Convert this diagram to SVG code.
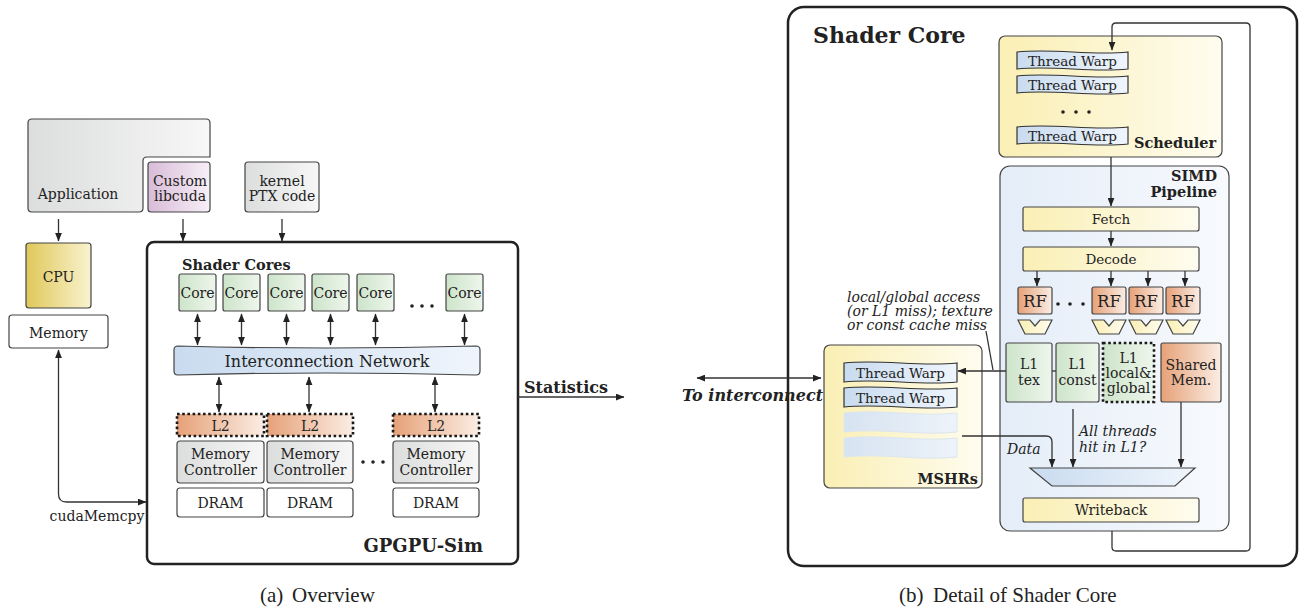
<svg xmlns="http://www.w3.org/2000/svg" width="1304" height="610" viewBox="0 0 1304 610">
<defs>
<linearGradient id="gGray" x1="0" y1="0" x2="1" y2="0"><stop offset="0" stop-color="#dcdddd"/><stop offset="1" stop-color="#f7f7f7"/></linearGradient>
<linearGradient id="gPurple" x1="0" y1="0" x2="1" y2="0"><stop offset="0" stop-color="#d8bcd8"/><stop offset="1" stop-color="#f7eff7"/></linearGradient>
<linearGradient id="gCpu" x1="0" y1="0" x2="1" y2="0"><stop offset="0" stop-color="#e0c85a"/><stop offset="1" stop-color="#f9f3cf"/></linearGradient>
<linearGradient id="gGreen" x1="0" y1="0" x2="1" y2="0"><stop offset="0" stop-color="#cde4ca"/><stop offset="1" stop-color="#eef6ec"/></linearGradient>
<linearGradient id="gOrange" x1="0" y1="0" x2="1" y2="0"><stop offset="0" stop-color="#e6a178"/><stop offset="1" stop-color="#fbede4"/></linearGradient>
<linearGradient id="gBlue" x1="0" y1="0" x2="1" y2="0"><stop offset="0" stop-color="#c9dbef"/><stop offset="1" stop-color="#eff5fc"/></linearGradient>
<linearGradient id="gPaleBlue" x1="0" y1="0" x2="1" y2="0"><stop offset="0" stop-color="#e4edf8"/><stop offset="1" stop-color="#f8fafd"/></linearGradient>
<linearGradient id="gYellow" x1="0" y1="0" x2="1" y2="0"><stop offset="0" stop-color="#faefb4"/><stop offset="1" stop-color="#fefcef"/></linearGradient>
<linearGradient id="gEmpty" x1="0" y1="0" x2="1" y2="0"><stop offset="0" stop-color="#d6e3f1"/><stop offset="1" stop-color="#edf3fa"/></linearGradient>
<marker id="ah" viewBox="0 0 10 8" refX="9.5" refY="4" markerWidth="9" markerHeight="7" markerUnits="userSpaceOnUse" orient="auto-start-reverse"><path d="M0,0 L10,4 L0,8 z" fill="#222"/></marker>
<style>
text{font-family:"DejaVu Serif","Liberation Serif",serif;fill:#222;}
.box{stroke:#444;stroke-width:1.2;}
.frame{fill:none;stroke:#222;stroke-width:2.5;}
.dash{stroke:#1a1a1a;stroke-width:2.6;stroke-dasharray:2.6 2.6;}
.t14{font-size:14px;text-anchor:middle;}
.t13{font-size:13.5px;text-anchor:middle;}
.b{font-weight:bold;}
.it{font-style:italic;font-size:14px;}
.cap{font-family:"Liberation Serif","Times New Roman",serif;font-size:21px;}
.ln{fill:none;stroke:#333;stroke-width:1.3;}
.arr{fill:none;stroke:#333;stroke-width:1.3;marker-end:url(#ah);}
.darr{fill:none;stroke:#333;stroke-width:1.3;marker-start:url(#ah);marker-end:url(#ah);}
.tw{fill:url(#gBlue);stroke:#333;stroke-width:1.2;}
.twe{fill:url(#gEmpty);stroke:#dde6ef;stroke-width:1;}
</style>
</defs>
<rect width="1304" height="610" fill="#fff"/>

<!-- ===== Left: Overview ===== -->
<g id="application">
<path class="box" fill="url(#gGray)" d="M32,119 L206,119 Q210,119 210,123 L210,157 L147,157 Q143,157 143,161 L143,208 Q143,212 139,212 L32,212 Q28,212 28,208 L28,123 Q28,119 32,119 Z"/>
<text class="t14" x="78" y="199">Application</text>
</g>
<g id="libcuda">
<rect class="box" fill="url(#gPurple)" x="148" y="162" width="62" height="50" rx="3"/>
<text class="t14" x="180" y="186">Custom</text>
<text class="t14" x="180" y="201">libcuda</text>
</g>
<g id="ptx">
<rect class="box" fill="url(#gGray)" x="245" y="162" width="74" height="50" rx="3"/>
<text class="t14" x="282" y="186">kernel</text>
<text class="t14" x="282" y="201">PTX code</text>
</g>
<g id="cpu">
<rect class="box" fill="url(#gCpu)" x="26" y="243" width="65" height="65" rx="3"/>
<text class="t14" x="58.5" y="282">CPU</text>
</g>
<g id="memory">
<rect class="box" fill="#fff" x="9" y="315" width="99" height="33" rx="3"/>
<text class="t14" x="58.5" y="338">Memory</text>
</g>
<g id="gpgpusim">
<rect class="frame" x="147" y="242" width="371" height="322" rx="7"/>
<text class="b" x="182" y="270" font-size="14.5px">Shader Cores</text>
<text class="b" x="483" y="552" font-size="18px" text-anchor="end">GPGPU-Sim</text>
</g>
<g id="cores">
<rect class="box" fill="url(#gGreen)" x="179" y="274" width="37" height="37" rx="2"/>
<rect class="box" fill="url(#gGreen)" x="223" y="274" width="37" height="37" rx="2"/>
<rect class="box" fill="url(#gGreen)" x="268" y="274" width="37" height="37" rx="2"/>
<rect class="box" fill="url(#gGreen)" x="312" y="274" width="37" height="37" rx="2"/>
<rect class="box" fill="url(#gGreen)" x="357" y="274" width="37" height="37" rx="2"/>
<rect class="box" fill="url(#gGreen)" x="446" y="274" width="37" height="37" rx="2"/>
<text class="t14" x="197.5" y="298">Core</text>
<text class="t14" x="241.5" y="298">Core</text>
<text class="t14" x="286.5" y="298">Core</text>
<text class="t14" x="330.5" y="298">Core</text>
<text class="t14" x="375.5" y="298">Core</text>
<text class="t14" x="464.5" y="298">Core</text>
<circle cx="412" cy="306" r="1.8" fill="#222"/><circle cx="422" cy="306" r="1.8" fill="#222"/><circle cx="432" cy="306" r="1.8" fill="#222"/>
</g>
<g id="network">
<path class="box" fill="url(#gBlue)" d="M178,346 Q327,350 476,346 Q480,346 480,350 L480,371 Q480,375 476,375 Q327,371 178,375 Q174,375 174,371 L174,350 Q174,346 178,346 Z"/>
<text x="327" y="367" font-size="16px" text-anchor="middle">Interconnection Network</text>
</g>
<g id="partitions">
<rect class="dash" fill="url(#gOrange)" x="177" y="414" width="87" height="22"/>
<rect class="dash" fill="url(#gOrange)" x="267" y="414" width="86" height="22"/>
<rect class="dash" fill="url(#gOrange)" x="393" y="414" width="86" height="22"/>
<text class="t14" x="220.5" y="431">L2</text>
<text class="t14" x="310" y="431">L2</text>
<text class="t14" x="436" y="431">L2</text>
<rect class="box" fill="url(#gGray)" x="177" y="441" width="87" height="42" rx="3"/>
<rect class="box" fill="url(#gGray)" x="267" y="441" width="86" height="42" rx="3"/>
<rect class="box" fill="url(#gGray)" x="393" y="441" width="86" height="42" rx="3"/>
<text class="t14" x="220.5" y="459">Memory</text><text class="t14" x="220.5" y="475">Controller</text>
<text class="t14" x="310" y="459">Memory</text><text class="t14" x="310" y="475">Controller</text>
<text class="t14" x="436" y="459">Memory</text><text class="t14" x="436" y="475">Controller</text>
<rect class="box" fill="#fff" x="177" y="488" width="87" height="29" rx="3"/>
<rect class="box" fill="#fff" x="267" y="488" width="86" height="29" rx="3"/>
<rect class="box" fill="#fff" x="393" y="488" width="86" height="29" rx="3"/>
<text class="t14" x="220.5" y="508">DRAM</text>
<text class="t14" x="310" y="508">DRAM</text>
<text class="t14" x="436" y="508">DRAM</text>
<circle cx="363" cy="462" r="1.8" fill="#222"/><circle cx="373" cy="462" r="1.8" fill="#222"/><circle cx="383" cy="462" r="1.8" fill="#222"/>
</g>

<!-- ===== Right: Shader Core ===== -->
<g id="shadercore">
<rect class="frame" x="788" y="7" width="509" height="559" rx="16"/>
<text class="b" x="813" y="43" font-size="22px">Shader Core</text>
</g>
<g id="scheduler">
<rect class="box" fill="url(#gYellow)" x="999" y="36" width="223" height="121" rx="6"/>
<path class="tw" d="M1017,52 C1054,48 1091,56 1128,52 L1128,69 C1091,73 1054,65 1017,69 Z"/>
<path class="tw" d="M1017,76 C1054,72 1091,80 1128,76 L1128,93 C1091,97 1054,89 1017,93 Z"/>
<path class="tw" d="M1017,127 C1054,123 1091,131 1128,127 L1128,144 C1091,148 1054,140 1017,144 Z"/>
<text class="t13" x="1072.5" y="66">Thread Warp</text>
<text class="t13" x="1072.5" y="90">Thread Warp</text>
<text class="t13" x="1072.5" y="141">Thread Warp</text>
<circle cx="1063" cy="112" r="1.8" fill="#222"/><circle cx="1076" cy="112" r="1.8" fill="#222"/><circle cx="1089" cy="112" r="1.8" fill="#222"/>
<text class="b" x="1134" y="148" font-size="14.5px">Scheduler</text>
</g>
<g id="simd">
<rect class="box" fill="url(#gPaleBlue)" x="1000" y="166" width="229" height="365" rx="10"/>
<text class="b" x="1217" y="181" font-size="14.5px" text-anchor="end">SIMD</text>
<text class="b" x="1217" y="197" font-size="14.5px" text-anchor="end">Pipeline</text>
</g>
<g id="fetch">
<rect class="box" fill="url(#gYellow)" x="1023" y="207" width="176" height="24" rx="2"/>
<text class="t13" x="1111" y="224">Fetch</text>
</g>
<g id="decode">
<rect class="box" fill="url(#gYellow)" x="1023" y="247" width="176" height="24" rx="2"/>
<text class="t13" x="1111" y="264">Decode</text>
</g>
<g id="rf">
<rect class="box" fill="url(#gOrange)" x="1018" y="287" width="34" height="27" rx="2"/>
<rect class="box" fill="url(#gOrange)" x="1092" y="287" width="34" height="27" rx="2"/>
<rect class="box" fill="url(#gOrange)" x="1129" y="287" width="34" height="27" rx="2"/>
<rect class="box" fill="url(#gOrange)" x="1166" y="287" width="34" height="27" rx="2"/>
<text x="1035" y="307" font-size="16.5px" text-anchor="middle">RF</text>
<text x="1109" y="307" font-size="16.5px" text-anchor="middle">RF</text>
<text x="1146" y="307" font-size="16.5px" text-anchor="middle">RF</text>
<text x="1183" y="307" font-size="16.5px" text-anchor="middle">RF</text>
<circle cx="1058" cy="304" r="1.8" fill="#222"/><circle cx="1070" cy="304" r="1.8" fill="#222"/><circle cx="1083" cy="304" r="1.8" fill="#222"/>
<path class="box" fill="url(#gYellow)" d="M1018,320 L1030,320 L1035,326 L1040,320 L1052,320 L1045,334 L1025,334 Z"/>
<path class="box" fill="url(#gYellow)" d="M1092,320 L1104,320 L1109,326 L1114,320 L1126,320 L1119,334 L1099,334 Z"/>
<path class="box" fill="url(#gYellow)" d="M1129,320 L1141,320 L1146,326 L1151,320 L1163,320 L1156,334 L1136,334 Z"/>
<path class="box" fill="url(#gYellow)" d="M1166,320 L1178,320 L1183,326 L1188,320 L1200,320 L1193,334 L1173,334 Z"/>
</g>
<g id="l1tex">
<rect class="box" fill="url(#gGreen)" x="1006" y="343" width="46" height="59" rx="2"/>
<text class="t14" x="1029" y="369">L1</text><text class="t14" x="1029" y="385">tex</text>
</g>
<g id="l1const">
<rect class="box" fill="url(#gGreen)" x="1056" y="343" width="43" height="59" rx="2"/>
<text class="t14" x="1077.5" y="369">L1</text><text class="t14" x="1077.5" y="385">const</text>
</g>
<g id="l1local">
<rect class="dash" fill="url(#gGreen)" x="1103" y="343" width="51" height="59"/>
<text class="t14" x="1128.5" y="363">L1</text><text class="t14" x="1128.5" y="378">local&amp;</text><text class="t14" x="1128.5" y="393">global</text>
</g>
<g id="sharedmem">
<rect class="box" fill="url(#gOrange)" x="1161" y="343" width="60" height="59" rx="2"/>
<text class="t14" x="1191" y="370">Shared</text><text class="t14" x="1191" y="385">Mem.</text>
</g>
<g id="mux">
<path class="box" fill="url(#gBlue)" d="M1030,468 L1195,468 L1175,486 L1052,486 Z"/>
</g>
<g id="writeback">
<rect class="box" fill="url(#gYellow)" x="1023" y="498" width="176" height="24" rx="2"/>
<text class="t14" x="1111" y="515">Writeback</text>
</g>
<g id="mshr">
<rect class="box" fill="url(#gYellow)" x="824" y="345" width="158" height="143" rx="6"/>
<path class="tw" d="M844,363 C882,359 919,367 957,363 L957,382 C919,386 882,378 844,382 Z"/>
<path class="tw" d="M844,388 C882,384 919,392 957,388 L957,407 C919,411 882,403 844,407 Z"/>
<path class="twe" d="M844,413 C882,409 919,417 957,413 L957,432 C919,436 882,428 844,432 Z"/>
<path class="twe" d="M844,438 C882,434 919,442 957,438 L957,457 C919,461 882,453 844,457 Z"/>
<text class="t13" x="900.5" y="378">Thread Warp</text>
<text class="t13" x="900.5" y="403">Thread Warp</text>
<text class="b" x="978" y="484" font-size="14.5px" text-anchor="end">MSHRs</text>
</g>

<!-- ===== Labels ===== -->
<g id="labels">
<text x="97" y="521" font-size="14px" text-anchor="middle">cudaMemcpy</text>
<text class="b" x="524" y="393" font-size="16px">Statistics</text>
<text class="b" x="682" y="401" font-size="16px" font-style="italic">To interconnect</text>
<text class="it" x="847" y="302">local/global access</text>
<text class="it" x="847" y="316">(or L1 miss); texture</text>
<text class="it" x="847" y="330">or const cache miss</text>
<text class="it" x="1007" y="454">Data</text>
<text class="it" x="1079" y="436">All threads</text>
<text class="it" x="1079" y="452">hit in L1?</text>
<text class="cap" x="260" y="602">(a)<tspan x="292">Overview</tspan></text>
<text class="cap" x="899" y="602">(b)<tspan x="933">Detail of Shader Core</tspan></text>
</g>

<!-- ===== Connectors ===== -->
<g id="connectors">
<path class="arr" d="M58.5,219 L58.5,241"/>
<path class="arr" d="M183,219 L183,241"/>
<path class="arr" d="M282,219 L282,241"/>
<path class="darr" d="M58.5,350 L58.5,494 Q58.5,502 66.5,502 L146,502"/>
<path class="darr" d="M197.5,314 L197.5,345"/>
<path class="darr" d="M241.5,314 L241.5,345"/>
<path class="darr" d="M286.5,314 L286.5,345"/>
<path class="darr" d="M330.5,314 L330.5,345"/>
<path class="darr" d="M375.5,314 L375.5,345"/>
<path class="darr" d="M464.5,314 L464.5,345"/>
<path class="darr" d="M219,377 L219,412"/>
<path class="darr" d="M309,377 L309,412"/>
<path class="darr" d="M435,377 L435,412"/>
<path class="arr" d="M518,397 L624,397"/>
<path class="darr" d="M697,378 L821,378"/>
<path class="arr" d="M1112,531 L1112,547 Q1112,551 1116,551 L1246,551 Q1250,551 1250,547 L1250,27 Q1250,23 1246,23 L1116,23 Q1112,23 1112,27 L1112,50"/>
<path class="arr" d="M1111,157 L1111,206"/>
<path class="arr" d="M1111,231 L1111,246"/>
<path class="arr" d="M1037,271 L1037,286"/>
<path class="arr" d="M1111,271 L1111,286"/>
<path class="arr" d="M1148,271 L1148,286"/>
<path class="arr" d="M1185,271 L1185,286"/>
<path class="arr" d="M1006,371 L958,371"/>
<path class="ln" d="M1052,371 L1056,371"/>
<path class="ln" d="M986,331 L993,370"/>
<path class="arr" d="M962,436 L1046,436 Q1052,436 1052,442 L1052,467"/>
<path class="arr" d="M1073,409 L1073,467"/>
<path class="arr" d="M1181,402 L1181,467"/>
</g>
</svg>
